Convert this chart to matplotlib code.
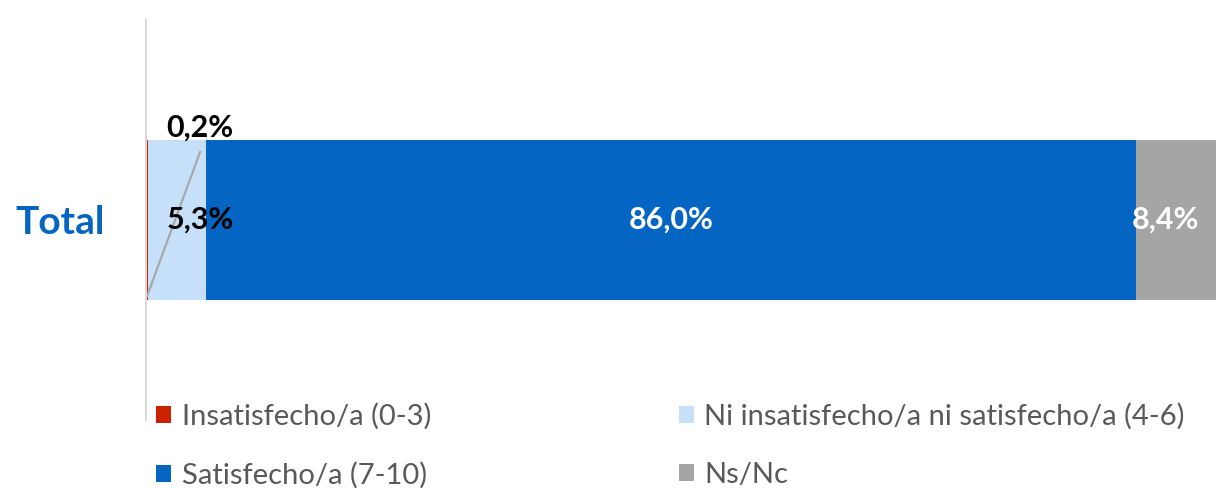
import matplotlib.pyplot as plt

plt.rcParams['font.family'] = ['Lato', 'DejaVu Sans']

# data
categories = ['Total']
series_names = ['Insatisfecho/a (0-3)', 'Ni insatisfecho/a ni satisfecho/a (4-6)',
                'Satisfecho/a (7-10)', 'Ns/Nc']
values = [0.2, 5.3, 86.0, 8.4]
value_labels = ['0,2%', '5,3%', '86,0%', '8,4%']
colors = ['#CC2200', '#C5E0F8', '#0565C2', '#A5A5A5']
label_colors = ['black', 'black', 'white', 'white']
# horizontal nudge of each label from its slice centre (data units)
label_shift = [0, 2.2, 0, -1.5]

fig = plt.figure(figsize=(12.16, 4.88), dpi=100)
ax = fig.add_axes([146 / 1216, 68 / 488, 1 - 146 / 1216, 400 / 488])

left = 0
bars = []
for name, v, c in zip(series_names, values, colors):
    b = ax.barh(0, v, left=left, height=0.4, color=c, label=name)
    bars.append(b)
    left += v

ax.set_xlim(0, 98.9)
ax.set_ylim(-0.5, 0.5)

# value labels
left = 0
for i, v in enumerate(values):
    mid = left + v / 2
    if i == 0:
        # small slice: label above the bar, leader line down to the slice
        ax.plot([mid, 5.0], [-0.19, 0.17], color='#A6A6A6', lw=1.5)
        ax.text(5.0, 0.232, value_labels[i], ha='center', va='center',
                fontsize=22, fontweight='bold', color=label_colors[i])
    else:
        ax.text(mid + label_shift[i], 0, value_labels[i], ha='center', va='center',
                fontsize=22, fontweight='bold', color=label_colors[i])
    left += v

ax.set_yticks([0])
ax.set_yticklabels(categories, fontsize=28, fontweight='bold', color='#0565C2')
ax.tick_params(axis='y', length=0, pad=30)
ax.set_xticks([])
for s in ['top', 'right', 'bottom']:
    ax.spines[s].set_visible(False)
ax.spines['left'].set_color('#D9D9D9')
ax.spines['left'].set_linewidth(1.5)

handles = [bars[0], bars[2], bars[1], bars[3]]
labels = [series_names[0], series_names[2], series_names[1], series_names[3]]
fig.legend(handles, labels, loc='upper left', bbox_to_anchor=(130 / 1216, 1 - 377 / 488),
           ncol=2, frameon=False, fontsize=21, labelcolor='#595959',
           handlelength=0.52, handleheight=0.52, handletextpad=0.35,
           columnspacing=8.5, labelspacing=1.1)

fig.savefig('out.png', dpi=100)
